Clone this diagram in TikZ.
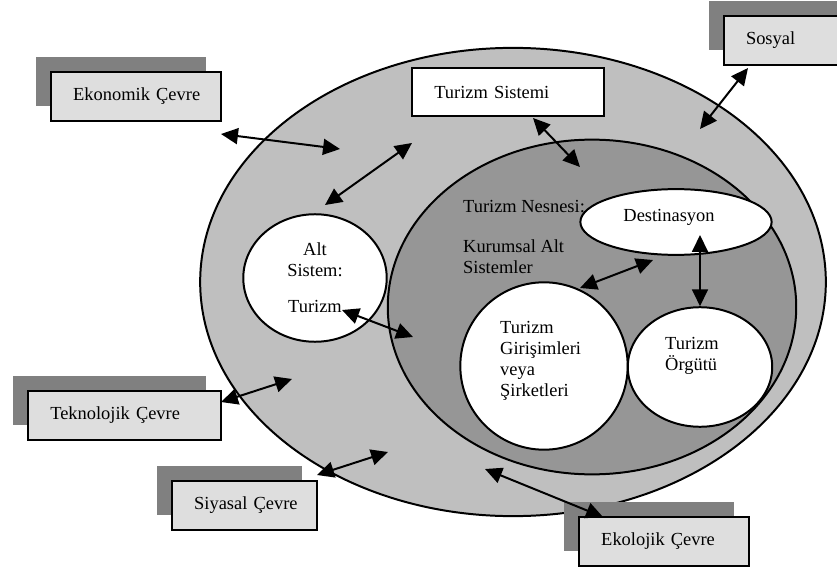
\documentclass[tikz,border=0pt]{standalone}
\usepackage{fontspec}
\setmainfont{Liberation Serif}
\usepackage{tikz}
\usetikzlibrary{shapes.geometric, arrows.meta, positioning, shadows}

\definecolor{ringgray}{gray}{0.75}
\definecolor{coregray}{gray}{0.59}
\definecolor{shadegray}{gray}{0.5}
\definecolor{boxgray}{gray}{0.87}

\begin{document}
\begin{tikzpicture}[
    x=1bp, y=-1bp,
    font=\fontsize{18.5}{21}\selectfont,
    envbox/.style={
      rectangle, draw=black, line width=2.2pt, fill=boxgray,
      text width=#1, align=left, inner xsep=22pt,
      minimum height=49pt,
      general shadow={fill=shadegray, shadow xshift=-15pt, shadow yshift=15pt}
    },
    sysbox/.style={
      rectangle, draw=black, line width=2.2pt, fill=white,
      text width=#1, align=left, inner xsep=22pt, minimum height=48pt
    },
    blob/.style={ellipse, draw=black, line width=2pt, inner sep=0pt},
    txt/.style={inner sep=0pt},
    arr/.style={{Triangle[length=17pt,width=16pt]}-{Triangle[length=17pt,width=16pt]},
      line width=2pt}
  ]
  \useasboundingbox[fill=white] (0,0) rectangle (837,569);
  \clip (0,0) rectangle (837,569);

  % the two rings
  \node[blob, fill=ringgray, minimum width=628pt, minimum height=470pt] (ring) at (513,282) {};
  \node[blob, fill=coregray, minimum width=410pt, minimum height=336pt] (core) at (592,307) {};

  \node[txt, anchor=base west] (nesne) at (463,213) {Turizm Nesnesi:};
  \node[txt, align=left, below=26pt of nesne.south west, anchor=north west] (kurum)
        {Kurumsal Alt\\Sistemler};

  % sub systems
  \node[blob, fill=white, minimum width=144pt, minimum height=128pt, align=center] (alt)
        at (315,278) {Alt\\Sistem:\\[15pt]Turizm};
  \node[blob, fill=white, minimum width=192pt, minimum height=66pt] (dest) at (676,222) {};
  \node[blob, fill=white, minimum width=168pt, minimum height=168pt] (gir) at (544,366) {};
  \node[blob, fill=white, minimum width=145pt, minimum height=120pt] (org) at (700,367) {};

  \node[txt, anchor=base] (destt) at (669,222) {Destinasyon};
  \node[txt, align=left, anchor=west] (girt) at (500,361)
        {Turizm\\Girişimleri\\veya\\Şirketleri};
  \node[txt, align=left, anchor=west] (orgt) at (665,356) {Turizm\\Örgütü};

  % environments
  \node[sysbox=148pt] (sistem) at (508,92) {Turizm Sistemi};
  \node[envbox=126pt] (ekon)  at (136,96.5)  {Ekonomik~Çevre};
  \node[envbox=200pt, anchor=west] (sosyal) at (723,40.5) {Sosyal};
  \node[envbox=149pt] (tekno) at (124.5,415.5) {Teknolojik~Çevre};
  \node[envbox=101pt] (siyas) at (244.5,505.5) {Siyasal~Çevre};
  \node[envbox=126pt] (ekol)  at (664,541.5) {Ekolojik~Çevre};

  % arrow ends
  \coordinate (ek1) at (221,134); \coordinate (ek2) at (340,149);
  \coordinate (as1) at (325,205); \coordinate (as2) at (412,143);
  \coordinate (ts1) at (533,118); \coordinate (ts2) at (580,167);
  \coordinate (so1) at (748,68);  \coordinate (so2) at (700,129);
  \coordinate (at1) at (342,310); \coordinate (at2) at (413,337);
  \coordinate (gd1) at (580,288); \coordinate (gd2) at (653,260);
  \coordinate (do1) at (700,235);
  \coordinate (te1) at (221,402); \coordinate (te2) at (292,379);
  \coordinate (si1) at (317,475); \coordinate (si2) at (388,452);
  \coordinate (el1) at (485,469); \coordinate (el2) at (603,517);

  \draw[arr] (ek1) -- (ek2);
  \draw[arr] (as1) -- (as2);
  \draw[arr] (ts1) -- (ts2);
  \draw[arr] (so1) -- (so2);
  \draw[arr] (at1) -- (at2);
  \draw[arr] (gd1) -- (gd2);
  \draw[arr] (do1) -- (org.north);
  \draw[arr] (te1) -- (te2);
  \draw[arr] (si1) -- (si2);
  \draw[arr] (el1) -- (el2);
\end{tikzpicture}
\end{document}
